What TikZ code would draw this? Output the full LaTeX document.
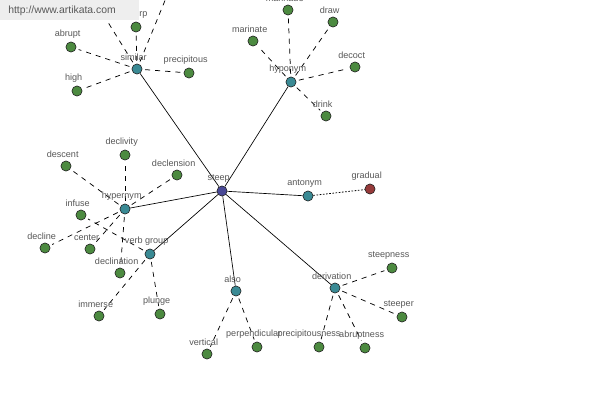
\documentclass[tikz,border=0pt]{standalone}
\usepackage{fontspec}
\setmainfont{Liberation Sans}
\usetikzlibrary{backgrounds}
\definecolor{ngreen}{RGB}{76,138,64}
\definecolor{nteal}{RGB}{58,138,148}
\definecolor{nhub}{RGB}{72,72,150}
\definecolor{nred}{RGB}{150,58,58}
\definecolor{ltext}{RGB}{88,88,88}
\definecolor{wmbg}{RGB}{238,238,238}
\tikzset{
  nd/.style={circle,draw=black!85,line width=0.45pt,minimum size=7.6pt,inner sep=0pt},
  gn/.style={nd,fill=ngreen},
  tl/.style={nd,fill=nteal},
  hubn/.style={nd,fill=nhub},
  rdn/.style={nd,fill=nred},
  lbl/.style={font=\fontsize{6.8}{8}\selectfont,text=ltext,inner sep=0.5pt,xshift=-2.5pt},
  every label/.style={lbl},
  label distance=1.8pt,
  solidedge/.style={draw=black,line width=0.5pt},
  dsh/.style={draw=black,line width=0.55pt,dash pattern=on 3.8pt off 3.8pt,shorten <=2pt,shorten >=2pt},
  dtt/.style={draw=black,line width=0.6pt,dash pattern=on 1.2pt off 1.2pt},
}
\begin{document}
\begin{tikzpicture}[x=0.75pt,y=-0.75pt]
\useasboundingbox (0,0) rectangle (600,400);
% nodes
\node[hubn,label=above:steep] (steep) at (222,191) {};
\node[tl,label=above:similar] (similar) at (137,69) {};
\node[tl,label=above:hyponym] (hyponym) at (291,82) {};
\node[tl,label=above:hypernym] (hypernym) at (125,209) {};
\node[tl,label=above:verb group] (vgroup) at (150,254) {};
\node[tl,label=above:antonym] (antonym) at (308,196) {};
\node[tl,label=above:also] (also) at (236,291) {};
\node[tl,label=above:derivation] (deriv) at (335,288) {};
\node[rdn,label=above:gradual] (gradual) at (370,189) {};
% similar group
\node[gn,label={[xshift=8pt]above:rp}] (rp) at (136,27) {};
\node[gn,label=above:abrupt] (abrupt) at (71,47) {};
\node[gn,label=above:high] (high) at (77,91) {};
\node[gn,label=above:precipitous] (precip) at (189,73) {};
\coordinate (offa) at (83,-18);
\coordinate (offb) at (175,-24);
% hyponym group
\node[gn,label=above:marinade] (marinade) at (288,10) {};
\node[gn,label=above:marinate] (marinate) at (253,41) {};
\node[gn,label=above:draw] (draw) at (333,22) {};
\node[gn,label=above:decoct] (decoct) at (355,67) {};
\node[gn,label=above:drink] (drink) at (326,116) {};
% hypernym group
\node[gn,label=above:descent] (descent) at (66,166) {};
\node[gn,label=above:declivity] (declivity) at (125,155) {};
\node[gn,label=above:declension] (declension) at (177,175) {};
\node[gn,label=above:infuse] (infuse) at (81,215) {};
\node[gn,label=above:decline] (decline) at (45,248) {};
\node[gn,label=above:center] (center) at (90,249) {};
\node[gn,label=above:declination] (declination) at (120,273) {};
% verb group
\node[gn,label=above:immerse] (immerse) at (99,316) {};
\node[gn,label=above:plunge] (plunge) at (160,314) {};
% also
\node[gn,label=above:vertical] (vertical) at (207,354) {};
\node[gn,label=above:perpendicular] (perp) at (257,347) {};
% derivation
\node[gn,label=above:steepness] (steepness) at (392,268) {};
\node[gn,label=above:steeper] (steeper) at (402,317) {};
\node[gn,label={[xshift=-5pt]above:precipitousness}] (precipness) at (319,347) {};
\node[gn,label=above:abruptness] (abruptness) at (365,348) {};
% edges
\begin{scope}[on background layer]
\fill[white] (0,0) rectangle (600,400);
\foreach \t in {similar,hyponym,hypernym,vgroup,antonym,also,deriv}
  \draw[solidedge] (steep) -- (\t);
\draw[dtt] (antonym) -- (gradual);
\foreach \t in {rp,abrupt,high,precip}
  \draw[dsh] (similar) -- (\t);
\draw[dsh] (similar) -- (offa);
\draw[dsh] (similar) -- (offb);
\foreach \t in {marinade,marinate,draw,decoct,drink}
  \draw[dsh] (hyponym) -- (\t);
\foreach \t in {descent,declivity,declension,decline,center,declination}
  \draw[dsh] (hypernym) -- (\t);
\foreach \t in {infuse,immerse,plunge}
  \draw[dsh] (vgroup) -- (\t);
\foreach \t in {vertical,perp}
  \draw[dsh] (also) -- (\t);
\foreach \t in {steepness,steeper,precipness,abruptness}
  \draw[dsh] (deriv) -- (\t);
\end{scope}
% watermark
\fill[wmbg] (0,0) rectangle (139,20);
\node[anchor=west,inner sep=0pt,font=\fontsize{7.8}{9}\selectfont,text=ltext] (wm) at (8,11) {http://www.artikata.com};
\end{tikzpicture}
\end{document}
